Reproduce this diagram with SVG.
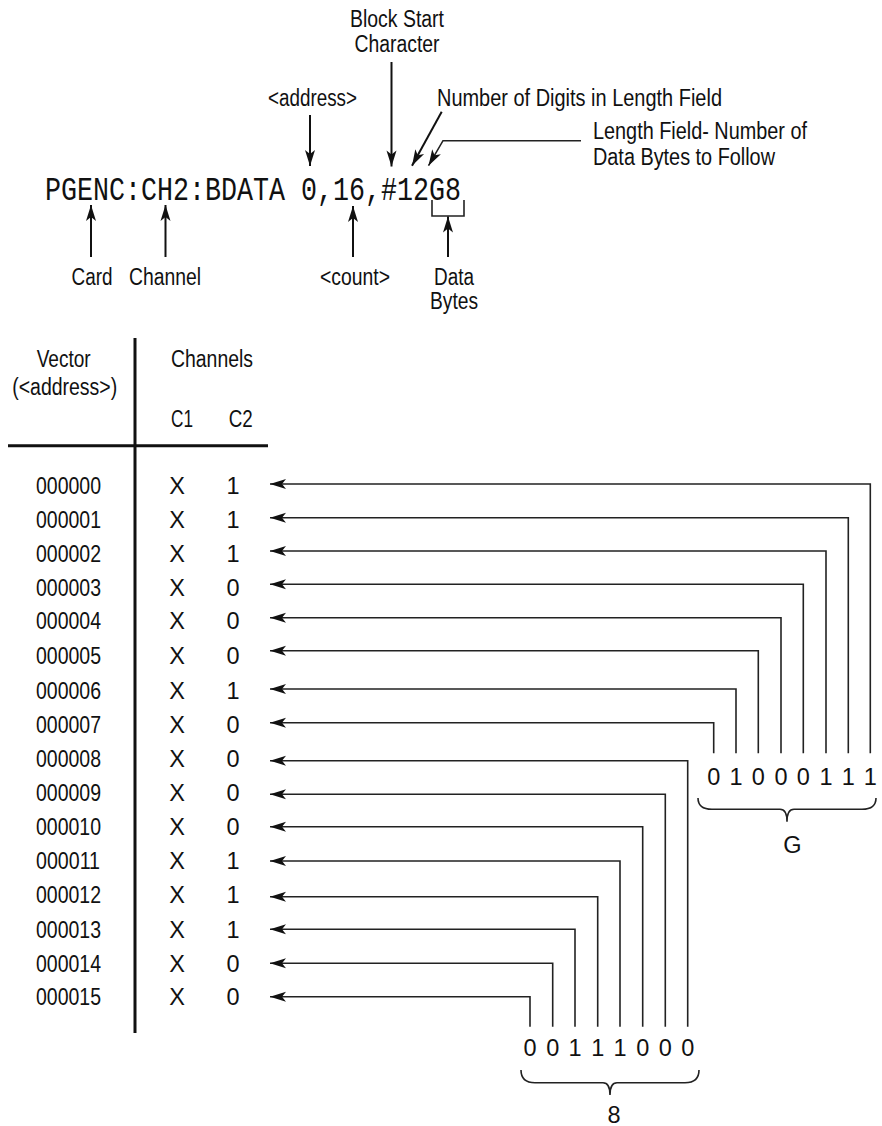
<svg xmlns="http://www.w3.org/2000/svg" width="882" height="1126" viewBox="0 0 882 1126">
<style>
.t{font-family:"Liberation Sans","Noto Sans",Arial,sans-serif;font-size:23.5px;fill:#111}
.c{text-anchor:middle}
.m{font-family:"Liberation Mono","DejaVu Sans Mono",monospace;font-size:34px;fill:#111}
.ln{fill:none;stroke:#222;stroke-width:1.6}
.ar{fill:none;stroke:#111;stroke-width:2}
.tb{fill:none;stroke:#111;stroke-width:3}
.br{fill:none;stroke:#222;stroke-width:1.6}
</style>
<defs>
<marker id="ah" markerUnits="userSpaceOnUse" markerWidth="18" markerHeight="12" viewBox="-17 -6 18 12" refX="0" refY="0" orient="auto">
<path d="M0,0 L-16,-5 L-12,0 L-16,5 Z" fill="#111"/>
</marker>
</defs>

<g id="command">
<text class="m" x="45" y="199.5" textLength="416" lengthAdjust="spacingAndGlyphs">PGENC:CH2:BDATA 0,16,#12G8</text>
<path class="br" d="M432,200 V216 H464 V200"/>
</g>

<g id="label-block-start">
<text class="t c" x="397" y="27" textLength="94" lengthAdjust="spacingAndGlyphs">Block Start</text>
<text class="t c" x="397" y="52" textLength="85" lengthAdjust="spacingAndGlyphs">Character</text>
</g>
<g id="label-address">
<text class="t c" x="312.5" y="106" textLength="89" lengthAdjust="spacingAndGlyphs">&lt;address&gt;</text>
</g>
<g id="label-digits">
<text class="t" x="437" y="106" textLength="285" lengthAdjust="spacingAndGlyphs">Number of Digits in Length Field</text>
</g>
<g id="label-length-field">
<text class="t" x="593" y="139" textLength="214" lengthAdjust="spacingAndGlyphs">Length Field- Number of</text>
<text class="t" x="593" y="165" textLength="182" lengthAdjust="spacingAndGlyphs">Data Bytes to Follow</text>
</g>
<g id="label-card"><text class="t c" x="92" y="285" textLength="41" lengthAdjust="spacingAndGlyphs">Card</text></g>
<g id="label-channel"><text class="t c" x="165" y="285" textLength="72" lengthAdjust="spacingAndGlyphs">Channel</text></g>
<g id="label-count"><text class="t c" x="355" y="285" textLength="70" lengthAdjust="spacingAndGlyphs">&lt;count&gt;</text></g>
<g id="label-data-bytes">
<text class="t c" x="454" y="285" textLength="40" lengthAdjust="spacingAndGlyphs">Data</text>
<text class="t c" x="454" y="309" textLength="48" lengthAdjust="spacingAndGlyphs">Bytes</text>
</g>

<g id="table">
<path class="tb" d="M135,338 V1033"/>
<path class="tb" d="M8,445.7 H268"/>
<text class="t c" x="63.7" y="367" textLength="54" lengthAdjust="spacingAndGlyphs">Vector</text>
<text class="t c" x="64.7" y="395" textLength="105" lengthAdjust="spacingAndGlyphs">(&lt;address&gt;)</text>
<text class="t c" x="212" y="367" textLength="82" lengthAdjust="spacingAndGlyphs">Channels</text>
<text class="t c" x="182" y="427" textLength="22" lengthAdjust="spacingAndGlyphs">C1</text>
<text class="t c" x="240.7" y="427" textLength="24" lengthAdjust="spacingAndGlyphs">C2</text>
</g>

<g id="rows" class="t">
<g id="row0"><text x="36" y="494" textLength="65" lengthAdjust="spacingAndGlyphs">000000</text><text class="c" x="177" y="494">X</text><text class="c" x="233" y="494">1</text></g>
<g id="row1"><text x="36" y="528" textLength="65" lengthAdjust="spacingAndGlyphs">000001</text><text class="c" x="177" y="528">X</text><text class="c" x="233" y="528">1</text></g>
<g id="row2"><text x="36" y="561.5" textLength="65" lengthAdjust="spacingAndGlyphs">000002</text><text class="c" x="177" y="561.5">X</text><text class="c" x="233" y="561.5">1</text></g>
<g id="row3"><text x="36" y="595.5" textLength="65" lengthAdjust="spacingAndGlyphs">000003</text><text class="c" x="177" y="595.5">X</text><text class="c" x="233" y="595.5">0</text></g>
<g id="row4"><text x="36" y="629" textLength="65" lengthAdjust="spacingAndGlyphs">000004</text><text class="c" x="177" y="629">X</text><text class="c" x="233" y="629">0</text></g>
<g id="row5"><text x="36" y="664" textLength="65" lengthAdjust="spacingAndGlyphs">000005</text><text class="c" x="177" y="664">X</text><text class="c" x="233" y="664">0</text></g>
<g id="row6"><text x="36" y="699" textLength="65" lengthAdjust="spacingAndGlyphs">000006</text><text class="c" x="177" y="699">X</text><text class="c" x="233" y="699">1</text></g>
<g id="row7"><text x="36" y="733" textLength="65" lengthAdjust="spacingAndGlyphs">000007</text><text class="c" x="177" y="733">X</text><text class="c" x="233" y="733">0</text></g>
<g id="row8"><text x="36" y="767" textLength="65" lengthAdjust="spacingAndGlyphs">000008</text><text class="c" x="177" y="767">X</text><text class="c" x="233" y="767">0</text></g>
<g id="row9"><text x="36" y="801" textLength="65" lengthAdjust="spacingAndGlyphs">000009</text><text class="c" x="177" y="801">X</text><text class="c" x="233" y="801">0</text></g>
<g id="row10"><text x="36" y="835" textLength="65" lengthAdjust="spacingAndGlyphs">000010</text><text class="c" x="177" y="835">X</text><text class="c" x="233" y="835">0</text></g>
<g id="row11"><text x="36" y="869" textLength="64" lengthAdjust="spacingAndGlyphs">000011</text><text class="c" x="177" y="869">X</text><text class="c" x="233" y="869">1</text></g>
<g id="row12"><text x="36" y="903" textLength="65" lengthAdjust="spacingAndGlyphs">000012</text><text class="c" x="177" y="903">X</text><text class="c" x="233" y="903">1</text></g>
<g id="row13"><text x="36" y="937.5" textLength="65" lengthAdjust="spacingAndGlyphs">000013</text><text class="c" x="177" y="937.5">X</text><text class="c" x="233" y="937.5">1</text></g>
<g id="row14"><text x="36" y="971.5" textLength="65" lengthAdjust="spacingAndGlyphs">000014</text><text class="c" x="177" y="971.5">X</text><text class="c" x="233" y="971.5">0</text></g>
<g id="row15"><text x="36" y="1005" textLength="65" lengthAdjust="spacingAndGlyphs">000015</text><text class="c" x="177" y="1005">X</text><text class="c" x="233" y="1005">0</text></g>
</g>

<g id="byte-G" class="t c">
<text x="713.7" y="785">0</text><text x="736" y="785">1</text><text x="758.3" y="785">0</text><text x="781" y="785">0</text>
<text x="803.3" y="785">0</text><text x="826" y="785">1</text><text x="848.3" y="785">1</text><text x="870.3" y="785">1</text>
<path class="br" d="M698,798 Q698,809.3 712,809.3 L780,809.3 Q787,809.3 787,821.7 Q787,809.3 794,809.3 L862,809.3 Q876,809.3 876,798"/>
<text x="792.5" y="853">G</text>
</g>

<g id="byte-8" class="t c">
<text x="530" y="1056">0</text><text x="552.7" y="1056">0</text><text x="575" y="1056">1</text><text x="597.7" y="1056">1</text>
<text x="620" y="1056">1</text><text x="642.7" y="1056">0</text><text x="665.3" y="1056">0</text><text x="687.7" y="1056">0</text>
<path class="br" d="M521,1070 Q521,1082.7 535,1082.7 L603,1082.7 Q610,1082.7 610,1095 Q610,1082.7 617,1082.7 L685,1082.7 Q699,1082.7 699,1070"/>
<text x="614" y="1123">8</text>
</g>

<g id="connectors">
<path class="ar" d="M310,115 V166" marker-end="url(#ah)"/>
<path class="ar" d="M391.5,62 V166.5" marker-end="url(#ah)"/>
<path class="ar" d="M441.7,111.7 L412,165.7" marker-end="url(#ah)"/>
<path class="ln" d="M581,140.7 H443 L428.5,165.7" marker-end="url(#ah)"/>
<path class="ar" d="M91,257 V205" marker-end="url(#ah)"/>
<path class="ar" d="M165.5,257 V205" marker-end="url(#ah)"/>
<path class="ar" d="M353,257 V206" marker-end="url(#ah)"/>
<path class="ar" d="M448,257 V216.5" marker-end="url(#ah)"/>

<path class="ln" d="M870.3,753.3 V484 H270" marker-end="url(#ah)"/>
<path class="ln" d="M848.3,753.3 V517.7 H270" marker-end="url(#ah)"/>
<path class="ln" d="M826,753.3 V551 H270" marker-end="url(#ah)"/>
<path class="ln" d="M803.3,753.3 V584.3 H270" marker-end="url(#ah)"/>
<path class="ln" d="M781,753.3 V617.7 H270" marker-end="url(#ah)"/>
<path class="ln" d="M758.3,753.3 V650.7 H270" marker-end="url(#ah)"/>
<path class="ln" d="M736,753.3 V689 H270" marker-end="url(#ah)"/>
<path class="ln" d="M713.7,753.3 V722.7 H270" marker-end="url(#ah)"/>
<path class="ln" d="M687.7,1026.7 V760.7 H270" marker-end="url(#ah)"/>
<path class="ln" d="M665.3,1026.7 V794.3 H270" marker-end="url(#ah)"/>
<path class="ln" d="M642.7,1026.7 V826.7 H270" marker-end="url(#ah)"/>
<path class="ln" d="M620,1026.7 V861 H270" marker-end="url(#ah)"/>
<path class="ln" d="M597.7,1026.7 V896.7 H270" marker-end="url(#ah)"/>
<path class="ln" d="M575,1026.7 V929.3 H270" marker-end="url(#ah)"/>
<path class="ln" d="M552.7,1026.7 V963.3 H270" marker-end="url(#ah)"/>
<path class="ln" d="M530,1026.7 V996.7 H270" marker-end="url(#ah)"/>
</g>
</svg>
